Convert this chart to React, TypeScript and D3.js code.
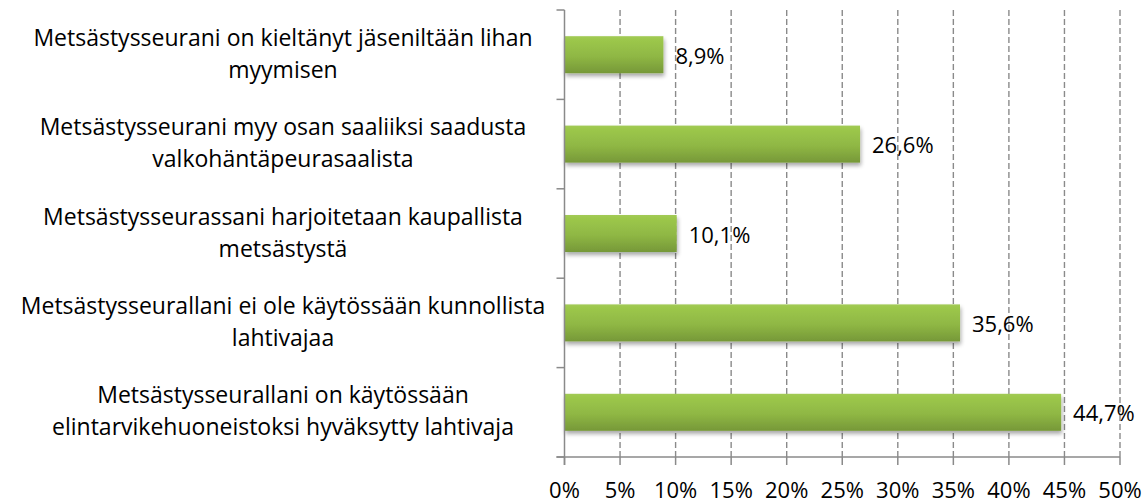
import React from "react";
import * as d3 from "d3";

const categories: string[][] = [
  ["Metsästysseurani on kieltänyt jäseniltään lihan", "myymisen"],
  ["Metsästysseurani myy osan saaliiksi saadusta", "valkohäntäpeurasaalista"],
  ["Metsästysseurassani harjoitetaan kaupallista", "metsästystä"],
  ["Metsästysseurallani ei ole käytössään kunnollista", "lahtivajaa"],
  ["Metsästysseurallani on käytössään", "elintarvikehuoneistoksi hyväksytty lahtivaja"],
];
const values: number[] = [8.9, 26.6, 10.1, 35.6, 44.7];
const xTicks: number[] = [0, 5, 10, 15, 20, 25, 30, 35, 40, 45, 50];

const W = 1147;
const H = 504;
const FONT = "'Open Sans', sans-serif";

export default function App() {
  const x = d3.scaleLinear().domain([0, 50]).range([564.5, 1120]);
  const y = d3
    .scaleBand<number>()
    .domain(d3.range(categories.length))
    .range([10, 457])
    .padding(0);
  const bw = y.bandwidth();
  const barH = bw * 0.414;
  const fmt = (v: number) => v.toFixed(1).replace(".", ",") + "%";
  const [y0, y1] = y.range();

  return (
    <svg
      width={W}
      height={H}
      style={{ position: "absolute", left: 0, top: 0, background: "#fff" }}
      fontFamily={FONT}
    >
      <defs>
        <linearGradient id="barGrad" x1="0" y1="0" x2="0" y2="1">
          <stop offset="0%" stopColor="#a2ca55" />
          <stop offset="10%" stopColor="#9cc74b" />
          <stop offset="55%" stopColor="#8fb744" />
          <stop offset="100%" stopColor="#769838" />
        </linearGradient>
        <filter id="shadow" x="-5%" y="-30%" width="110%" height="180%">
          <feGaussianBlur in="SourceAlpha" stdDeviation="2.2" />
          <feOffset dx="1" dy="3" result="blur" />
          <feComponentTransfer>
            <feFuncA type="linear" slope="0.35" />
          </feComponentTransfer>
          <feMerge>
            <feMergeNode />
            <feMergeNode in="SourceGraphic" />
          </feMerge>
        </filter>
      </defs>

      {/* gridlines */}
      {xTicks.slice(1).map((t) => (
        <line
          key={"g" + t}
          x1={x(t)}
          x2={x(t)}
          y1={y0}
          y2={y1}
          stroke="#8a8a8a"
          strokeWidth={1.4}
          strokeDasharray="6,3"
        />
      ))}

      {/* bars */}
      {values.map((v, i) => {
        const cy = (y(i) as number) + bw / 2;
        return (
          <g key={"b" + i}>
            <rect
              x={x(0)}
              y={cy - barH / 2}
              width={x(v) - x(0)}
              height={barH}
              fill="url(#barGrad)"
              filter="url(#shadow)"
            />
            <text
              x={x(v) + 12}
              y={cy}
              dominantBaseline="central"
              fontSize={22}
              fill="#000"
            >
              {fmt(v)}
            </text>
          </g>
        );
      })}

      {/* y axis */}
      <line x1={x(0)} x2={x(0)} y1={y0} y2={y1 + 8} stroke="#8a8a8a" strokeWidth={1.5} />
      {d3.range(categories.length + 1).map((i) => {
        const yy = y0 + i * bw;
        return (
          <line key={"yt" + i} x1={x(0) - 8} x2={x(0)} y1={yy} y2={yy} stroke="#8a8a8a" strokeWidth={1.5} />
        );
      })}

      {/* x axis */}
      <line x1={x(0) - 8} x2={x(50)} y1={y1} y2={y1} stroke="#8a8a8a" strokeWidth={1.5} />
      {xTicks.map((t) => (
        <g key={"xt" + t}>
          <line x1={x(t)} x2={x(t)} y1={y1} y2={y1 + 8} stroke="#8a8a8a" strokeWidth={1.5} />
          <text x={x(t)} y={498} textAnchor="middle" fontSize={22} fill="#000">
            {t + "%"}
          </text>
        </g>
      ))}

      {/* category labels */}
      {categories.map((lines, i) => {
        const cy = (y(i) as number) + bw / 2;
        return (
          <text key={"c" + i} x={283} textAnchor="middle" fontSize={23} fill="#000">
            <tspan x={283} y={cy - 9}>
              {lines[0]}
            </tspan>
            <tspan x={283} y={cy + 23}>
              {lines[1]}
            </tspan>
          </text>
        );
      })}
    </svg>
  );
}
